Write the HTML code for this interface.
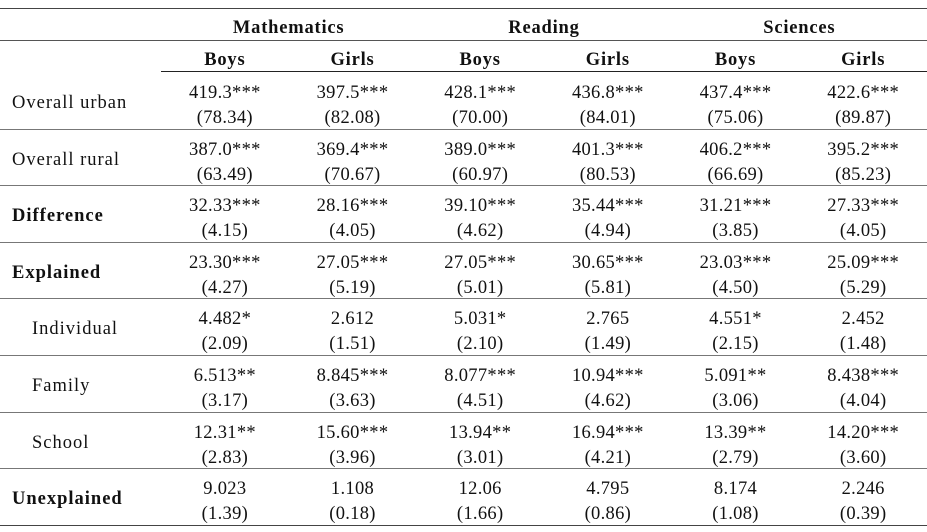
<!DOCTYPE html>
<html><head><meta charset="utf-8"><style>
body{margin:0;width:927px;height:532px;background:#fff;font-family:"Liberation Serif",serif;color:#111;position:relative;overflow:hidden}
.h{position:absolute;left:0;width:927px;height:0}
.t{position:absolute;font-size:18.5px;text-align:center;white-space:nowrap;letter-spacing:0.3px}
.hd{letter-spacing:0.8px}
.lab{position:absolute;font-size:18.5px;white-space:nowrap;letter-spacing:1px}
</style></head><body>
<div class="h" style="top:8px;border-top:1.5px solid #444"></div>
<div class="h" style="top:40px;border-top:1.5px solid #555"></div>
<div class="h" style="top:71px;left:161px;width:766px;border-top:1.5px solid #222"></div>
<div id="tbl"></div>
<script>
const subjects=["Mathematics","Reading","Sciences"];
const genders=["Boys","Girls"];
const rowLabels=["Overall urban","Overall rural","Difference","Explained","Individual","Family","School","Unexplained"];
const boldRows=[false,false,true,true,false,false,false,true];
const indentRows=[false,false,false,false,true,true,true,false];
const estimates=[
["419.3***","397.5***","428.1***","436.8***","437.4***","422.6***"],
["387.0***","369.4***","389.0***","401.3***","406.2***","395.2***"],
["32.33***","28.16***","39.10***","35.44***","31.21***","27.33***"],
["23.30***","27.05***","27.05***","30.65***","23.03***","25.09***"],
["4.482*","2.612","5.031*","2.765","4.551*","2.452"],
["6.513**","8.845***","8.077***","10.94***","5.091**","8.438***"],
["12.31**","15.60***","13.94**","16.94***","13.39**","14.20***"],
["9.023","1.108","12.06","4.795","8.174","2.246"]];
const stderrs=[
["78.34","82.08","70.00","84.01","75.06","89.87"],
["63.49","70.67","60.97","80.53","66.69","85.23"],
["4.15","4.05","4.62","4.94","3.85","4.05"],
["4.27","5.19","5.01","5.81","4.50","5.29"],
["2.09","1.51","2.10","1.49","2.15","1.48"],
["3.17","3.63","4.51","4.62","3.06","4.04"],
["2.83","3.96","3.01","4.21","2.79","3.60"],
["1.39","0.18","1.66","0.86","1.08","0.39"]];
const root=document.getElementById('tbl');
const x0=161, cw=(927-161)/6, rowTop=72, rh=56.6;
function mk(cls,txt,l,t,w,bold){const d=document.createElement('div');d.className=cls;d.textContent=txt;d.style.left=l+'px';d.style.top=t+'px';if(w)d.style.width=w+'px';if(bold)d.style.fontWeight='bold';root.appendChild(d);return d;}
subjects.forEach((s,i)=>{const e=mk('t hd',s,x0+i*2*cw,18,2*cw,true);


genders.forEach((g,j)=>{const f=mk('t hd',g,x0+(i*2+j)*cw,50,cw,true);

});});
rowLabels.forEach((r,i)=>{const top=rowTop+i*rh;
const l=mk('lab',r,indentRows[i]?32:12,top+21,0,boldRows[i]);


for(let c=0;c<6;c++){const a=mk('t',estimates[i][c],x0+c*cw,top+11,cw);


const b=mk('t','('+stderrs[i][c]+')',x0+c*cw,top+36,cw);

}
const ln=document.createElement('div');ln.className='h';ln.style.top=(top+rh)+'px';ln.style.borderTop=(i==7?'1.5px solid #444':'1.5px solid #777');


root.appendChild(ln);});
</script>
</body></html>
